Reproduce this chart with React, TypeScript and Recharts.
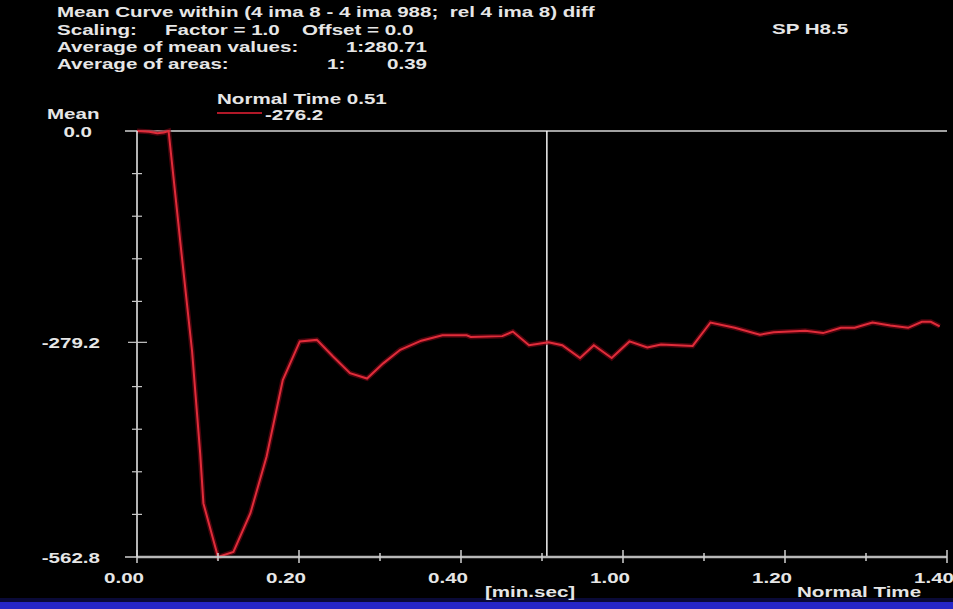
import { LineChart, Line, XAxis, YAxis, ReferenceLine } from 'recharts'

// mean curve, time in seconds (axis labels are min.sec)
const timeSec = [0, 1.5, 2.5, 3.3, 3.9, 5.5, 6.8, 7.8, 8.2, 10, 11.9, 14, 16, 18, 20.1, 22.2, 24.2, 26.3, 28.4, 30.4, 32.5, 35.1, 37.7, 40.7, 41.2, 45.1, 46.4, 48.4, 50.8, 52.5, 54.7, 56.4, 58.6, 60.8, 63, 64.7, 68.6, 70.8, 73.8, 76.9, 78.6, 82.5, 84.7, 86.9, 88.6, 90.8, 93, 95.2, 96.9, 98, 99.1]
const meanValues = [0, -1, -3, -2, 0, -162, -291, -426, -492, -562.8, -556, -505, -430, -329, -278, -276, -298, -320, -327, -307, -289, -277, -270, -270, -272, -271, -265, -283, -279, -283, -300, -283, -300, -278, -286, -282, -284, -253, -260, -269, -266, -264, -267, -260, -260, -253, -257, -260, -252, -252, -258]

const xTicks = [0, 10, 20, 30, 40, 50, 60, 70, 80, 90, 100]
const yTicks = [0, -56.3, -112.6, -168.8, -225.1, -279.2, -337.7, -394, -450.2, -506.5, -562.8]
const yLabelTicks = [0, -279.2, -562.8]

const cursorTime = 50.6
const cursorLabel = 'Normal Time 0.51'
const cursorValue = '-276.2'

const title = 'Mean Curve within (4 ima 8 - 4 ima 988;  rel 4 ima 8) diff'

const data = timeSec.map((t, i) => ({ t, v: meanValues[i] }))

const SX = 1.37
const FONT = "'Liberation Sans', Arial, sans-serif"

function Txt({ x, y, anchor = 'start', size = 15, children }: any) {
  return (
    <text
      transform={`translate(${x},${y}) scale(${SX},1)`}
      textAnchor={anchor}
      fill="#e6e6e6"
      fontFamily={FONT}
      fontWeight="bold"
      fontSize={size}
      style={{ whiteSpace: 'pre' }}
    >
      {children}
    </text>
  )
}

const fmtMinSec = (s: number) => `${Math.floor(s / 60)}.${String(s % 60).padStart(2, '0')}`

const XTick = (props: any) => {
  const { x, y, payload } = props
  const major = payload.value % 20 === 0
  return (
    <g>
      <line x1={x} x2={x} y1={major ? y - 7 : y - 4} y2={major ? y + 6 : y + 4} stroke="#d0d0d0" strokeWidth={1.5} />
      {major && <Txt x={x - 13} y={y + 26} anchor="middle">{fmtMinSec(payload.value)}</Txt>}
    </g>
  )
}

const YTick = (props: any) => {
  const { x, y, payload } = props
  const v = payload.value
  const labeled = yLabelTicks.includes(v)
  const edge = v === 0 || v === -562.8
  return (
    <g>
      {edge ? (
        <line x1={x - 12} x2={x} y1={y} y2={y} stroke="#d0d0d0" strokeWidth={1.5} />
      ) : (
        <line x1={labeled ? x - 9 : x - 5} x2={labeled ? x + 10 : x + 5} y1={y} y2={y} stroke="#c8c8c8" strokeWidth={1.2} />
      )}
      {labeled && (
        <Txt x={v === 0 ? x - 45 : x - 37} y={y + 6} anchor="end">
          {v.toFixed(1)}
        </Txt>
      )}
    </g>
  )
}

export default function App() {
  return (
    <div style={{ position: 'absolute', left: 0, top: 0, width: 953, height: 609, background: '#000', overflow: 'hidden' }}>
      <LineChart width={953} height={609} data={data} margin={{ top: 131, right: 6, left: 57, bottom: 22 }}>
        <XAxis
          type="number"
          dataKey="t"
          domain={[0, 100]}
          ticks={xTicks}
          interval={0}
          tickSize={0}
          tickMargin={0}
          height={30}
          axisLine={{ stroke: '#b8b8b8', strokeWidth: 2.5 }}
          tickLine={false}
          tick={<XTick />}
        />
        <YAxis
          type="number"
          domain={[-562.8, 0]}
          ticks={yTicks}
          interval={0}
          width={80}
          tickSize={0}
          tickMargin={0}
          axisLine={{ stroke: '#f0f0f0', strokeWidth: 1.5 }}
          tickLine={false}
          tick={<YTick />}
        />
        <ReferenceLine y={0} stroke="#d8d8d8" strokeWidth={1.5} />
        <ReferenceLine x={cursorTime} stroke="#f4f4f4" strokeWidth={1.5} />
        <Line type="linear" dataKey="v" stroke="#7a0614" strokeOpacity={0.6} strokeWidth={5} dot={false} isAnimationActive={false} />
        <Line type="linear" dataKey="v" stroke="#e02c3a" strokeWidth={2} dot={false} isAnimationActive={false} />
      </LineChart>

      <svg width={953} height={609} style={{ position: 'absolute', left: 0, top: 0, pointerEvents: 'none' }}>
        <rect x={0} y={598} width={953} height={4} fill="#0a0a38" />
        <rect x={0} y={602} width={953} height={7} fill="#2626c8" />

        <Txt x={57} y={17}>{title}</Txt>
        <Txt x={57} y={35}>Scaling:</Txt>
        <Txt x={165} y={35}>Factor = 1.0</Txt>
        <Txt x={302} y={35}>Offset = 0.0</Txt>
        <Txt x={772} y={34}>SP H8.5</Txt>
        <Txt x={57} y={52}>Average of mean values:</Txt>
        <Txt x={427} y={52} anchor="end">1:280.71</Txt>
        <Txt x={57} y={69}>Average of areas:</Txt>
        <Txt x={327} y={69}>1:</Txt>
        <Txt x={427} y={69} anchor="end">0.39</Txt>

        <Txt x={217} y={104}>{cursorLabel}</Txt>
        <line x1={217} x2={262} y1={113} y2={113} stroke="#b01828" strokeWidth={2} />
        <Txt x={265} y={119.5}>{cursorValue}</Txt>
        <Txt x={47} y={119}>Mean</Txt>

        <Txt x={485} y={597}>[min.sec]</Txt>
        <Txt x={797} y={597}>Normal Time</Txt>
      </svg>
    </div>
  )
}
